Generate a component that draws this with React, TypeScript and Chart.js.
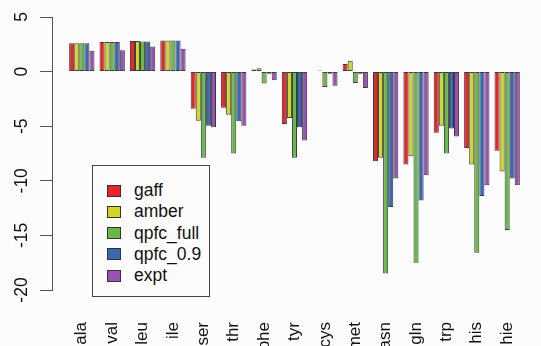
import React, { useEffect, useRef } from "react";
import { Chart, registerables } from "chart.js";

Chart.register(...registerables);

const categories = ["ala", "val", "leu", "ile", "ser", "thr", "phe", "tyr", "cys", "met", "asn", "gln", "trp", "his", "hie"];
const seriesNames = ["gaff", "amber", "qpfc_full", "qpfc_0.9", "expt"];
const seriesColors = ["#e8262a", "#d2d42a", "#68b84a", "#3a68b4", "#9a52b2"];

const gaff = [2.6, 2.7, 2.8, 2.85, -3.4, -3.3, 0.2, -4.8, 0.05, 0.7, -8.2, -8.5, -5.6, -7.0, -7.25];
const amber = [2.6, 2.7, 2.8, 2.85, -4.5, -3.95, 0.3, -4.25, 0.1, 1.0, -7.9, -7.75, -4.95, -8.5, -9.15];
const qpfcFull = [2.6, 2.7, 2.75, 2.85, -7.9, -7.5, -1.1, -7.9, -1.4, -1.05, -18.5, -17.5, -7.5, -16.6, -14.5];
const qpfc09 = [2.6, 2.7, 2.75, 2.85, -4.95, -4.55, -0.2, -5.1, -0.2, -0.2, -12.4, -11.8, -5.2, -11.4, -9.8];
const expt = [1.9, 1.95, 2.3, 2.1, -5.1, -4.95, -0.8, -6.3, -1.3, -1.5, -9.8, -9.5, -5.95, -10.4, -10.4];

const yTicks = [5, 0, -5, -10, -15, -20];

const seriesValues = [gaff, amber, qpfcFull, qpfc09, expt];
const FONT = "'Liberation Sans', Arial, Helvetica, sans-serif";

export default function App() {
  const ref = useRef<HTMLCanvasElement | null>(null);

  useEffect(() => {
    if (!ref.current) return;
    const chart = new Chart(ref.current, {
      type: "bar",
      data: {
        datasets: seriesValues.map((vals, si) => ({
          label: seriesNames[si],
          data: vals.map((v, i) => ({ x: i, y: v })),
          backgroundColor: seriesColors[si],
          borderColor: "#3a3a3a",
          borderWidth: 1,
          borderSkipped: false,
          categoryPercentage: 5 / 6,
          barPercentage: 1,
        })),
      },
      options: {
        responsive: false,
        animation: false,
        layout: { padding: { left: 0, top: 17, right: 11, bottom: 0 } },
        plugins: { legend: { display: false }, tooltip: { enabled: false } },
        scales: {
          x: {
            type: "linear",
            offset: false,
            min: -0.981,
            max: 14.6,
            grid: { display: false, drawTicks: false },
            border: { display: false },
            afterBuildTicks: (axis: any) => {
              axis.ticks = categories.map((_, i) => ({ value: i }));
            },
            afterFit: (axis: any) => {
              axis.height = 90;
            },
            ticks: {
              autoSkip: false,
              minRotation: 90,
              maxRotation: 90,
              padding: 32,
              color: "#111",
              font: { family: FONT, size: 17 },
              callback: (v: any) => categories[Math.round(Number(v))] ?? "",
            },
          },
          y: {
            min: -20,
            max: 5,
            afterBuildTicks: (axis: any) => {
              axis.ticks = yTicks.map((v) => ({ value: v }));
            },
            afterFit: (axis: any) => {
              axis.width = 52;
            },
            border: { display: true, color: "#555", width: 1 },
            grid: { drawOnChartArea: false, drawTicks: true, tickLength: 12, color: "#555" },
            ticks: {
              minRotation: 90,
              maxRotation: 90,
              crossAlign: "center",
              padding: 5,
              color: "#111",
              font: { family: FONT, size: 17.5 },
            },
          },
        },
      },
    });
    return () => chart.destroy();
  }, []);

  return (
    <div style={{ position: "fixed", left: 0, top: 0, width: 541, height: 346, overflow: "hidden", background: "#fcfcfd" }}>
      <canvas ref={ref} width={560} height={380} style={{ position: "absolute", left: 0, top: 0 }} />
      <div
        style={{
          position: "absolute",
          left: 92,
          top: 165,
          width: 116,
          height: 130,
          border: "1px solid #444",
          background: "#fcfcfd",
          fontFamily: FONT,
          fontSize: 17.5,
          color: "#111",
        }}
      >
        {seriesNames.map((name, i) => (
          <div key={name} style={{ position: "absolute", left: 14, top: 14 + i * 21.3, height: 21, display: "flex", alignItems: "center" }}>
            <div style={{ width: 12, height: 10, background: seriesColors[i], border: "1px solid #333" }} />
            <span style={{ marginLeft: 13, lineHeight: "21px" }}>{name}</span>
          </div>
        ))}
      </div>
    </div>
  );
}
